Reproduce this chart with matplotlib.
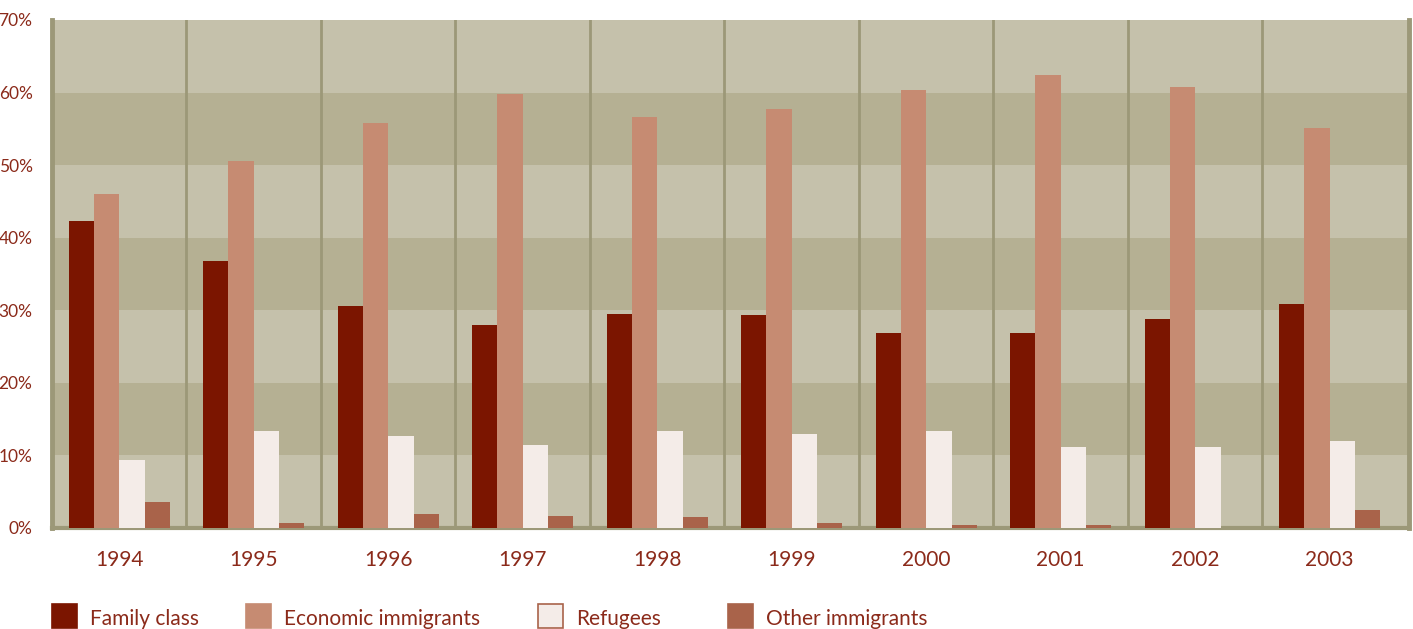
import numpy as np
import matplotlib.pyplot as plt
from matplotlib.patches import Rectangle

years = ['1994', '1995', '1996', '1997', '1998', '1999', '2000', '2001', '2002', '2003']
family = [42.3, 36.8, 30.6, 28.0, 29.5, 29.4, 26.9, 26.9, 28.8, 30.9]
economic = [46.0, 50.6, 55.8, 59.8, 56.6, 57.7, 60.4, 62.4, 60.8, 55.1]
refugees = [9.4, 13.4, 12.7, 11.4, 13.4, 13.0, 13.4, 11.2, 11.2, 12.0]
other = [3.6, 0.7, 1.9, 1.7, 1.5, 0.7, 0.4, 0.4, 0.0, 2.5]
labels = ['Family class', 'Economic immigrants', 'Refugees', 'Other immigrants']
colors = ['#7B1500', '#C68B72', '#F4ECE8', '#A9634A']

txt = '#8B2A1A'
line_c = '#9C9878'
plt.rcParams['font.family'] = ['Lato', 'DejaVu Sans']

fig = plt.figure(figsize=(14.13, 6.29), dpi=100)
ax = fig.add_axes([52 / 1413, 1 - 528 / 629, 1357 / 1413, 508 / 629])

# alternating bands
for k in range(7):
    ax.axhspan(k * 10, k * 10 + 10, color='#C5C1AB' if k % 2 == 0 else '#B5B093', lw=0, zorder=0)

x = np.arange(len(years))
w = 0.188
series = [family, economic, refugees, other]
for i, s in enumerate(series):
    ax.bar(x + (i - 1.5) * w, s, width=w, color=colors[i], zorder=3, lw=0)

for b in np.arange(0.5, 9.0, 1):
    ax.axvline(b, color=line_c, lw=2, zorder=2)

ax.set_xlim(-0.5, 9.5 + 12 / 134.4)
ax.set_ylim(0, 70)
ax.set_yticks(range(0, 71, 10))
ax.set_yticklabels([f'{v}%' for v in range(0, 71, 10)], color=txt, fontsize=12.5)
ax.set_xticks(x)
ax.set_xticklabels(years, color=txt, fontsize=15)
ax.tick_params(length=0)
ax.tick_params(axis='x', pad=16)
ax.tick_params(axis='y', pad=14)
for side in ['left', 'right']:
    ax.spines[side].set_color(line_c)
    ax.spines[side].set_linewidth(3.5)
ax.spines['bottom'].set_color(line_c)
ax.spines['bottom'].set_linewidth(3)
ax.spines['top'].set_visible(False)

# legend
H, W = 629, 1413
leg_x = [52, 246, 538, 728]
for i, lab in enumerate(labels):
    ec = '#A9634A' if i == 2 else colors[i]
    fig.patches.append(Rectangle((leg_x[i] / W, 1 - 628 / H), 25 / W, 24 / H,
                                 transform=fig.transFigure, facecolor=colors[i],
                                 edgecolor=ec, lw=1.2))
    fig.text((leg_x[i] + 38) / W, 1 - 619 / H, lab, color=txt, fontsize=15, va='center')

fig.savefig('out.png', dpi=100)
